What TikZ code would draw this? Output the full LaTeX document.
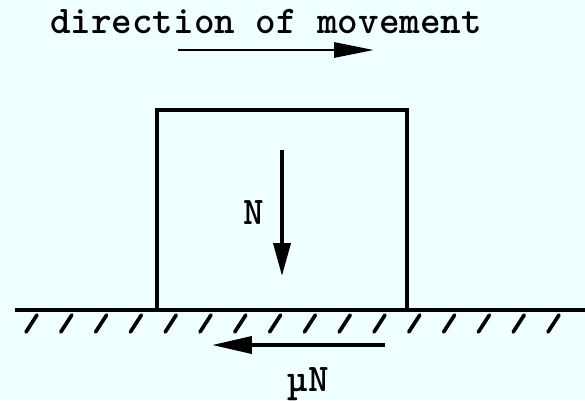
\documentclass[tikz,border=0pt]{standalone}
\usepackage{fontspec}
\usetikzlibrary{arrows.meta}
\definecolor{paper}{HTML}{F0FFFF}
\tikzset{
	label/.style={font=\ttfamily\bfseries\fontsize{22.3}{24}\selectfont, inner sep=0pt},
	force/.style={line width=2.2pt, -{Triangle[length=6.6mm, width=3.4mm]}},
	block/.style={draw, line width=1.8pt, minimum width=5cm, minimum height=4cm, inner sep=0pt},
	ground/.style={line width=2.3pt},
	hatch/.style={line width=2.1pt, line cap=round}
}
\begin{document}
\begin{tikzpicture}[x=0.02cm, y=-0.02cm]
	% background and frame
	\fill[paper] (0,0) rectangle (585,400);
	\useasboundingbox (0,0) rectangle (585,400);

	% ==========================================
	% TITLE: direction of movement
	% ==========================================
	\node[label, anchor=base] (title) at (266,33) {direction of movement};
	\coordinate (moveA) at (178,50);
	\coordinate (moveB) at (374,50);
	\draw[force, line width=1.7pt, -{Triangle[length=8mm, width=3mm]}] (moveA) -- (moveB);

	% --- The block ---
	\node[block] (box) at (282,210) {};

	% Normal force
	\coordinate (Ntop) at (282,150);
	\coordinate (Nbot) at (282,276);
	\draw[force] (Ntop) -- (Nbot);
	\node[label] (N) at (254,213) {N};

	% ==========================================
	% GROUND
	% ==========================================
	\coordinate (gl) at (15,310);
	\coordinate (gr) at (585,310);
	\draw[ground] (gl) -- (gr);
	\foreach \i in {0,...,15} \draw[hatch] (37+34.8*\i,315) -- (26+34.8*\i,332);

	% Friction force
	\coordinate (Fr) at (385,345);
	\coordinate (Fl) at (212,345);
	\draw[force, -{Triangle[length=8mm, width=3.4mm]}] (Fr) -- (Fl);
	\node[label, anchor=base] (muN) at (308,391) {µN};
\end{tikzpicture}
\end{document}
